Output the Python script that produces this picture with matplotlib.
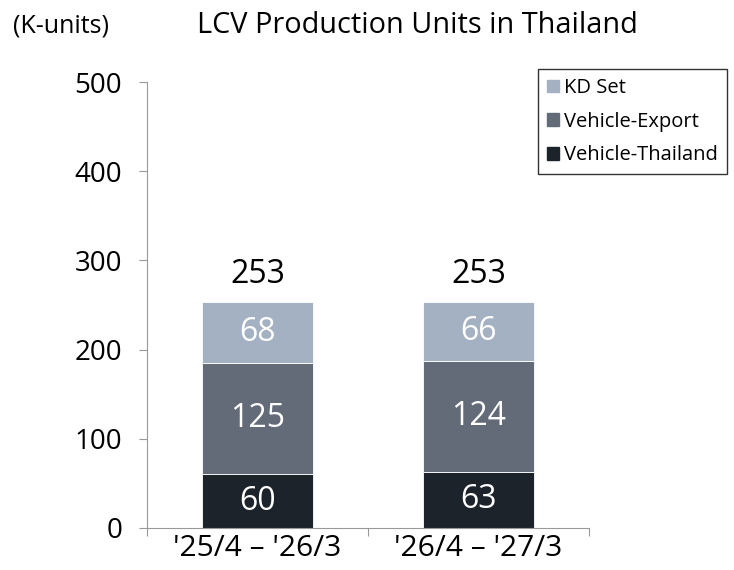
import numpy as np
import matplotlib.pyplot as plt
from matplotlib.patches import Patch

plt.rcParams['font.family'] = ['Open Sans', 'DejaVu Sans']

periods = ["'25/4 \u2013 '26/3", "'26/4 \u2013 '27/3"]
vehicle_thailand = [60, 63]
vehicle_export = [125, 124]
kd_set = [68, 66]
totals = [253, 253]

c_thai = '#1d232b'
c_exp = '#636a78'
c_kd = '#a3b1c2'

fig = plt.figure(figsize=(7.34, 5.7), dpi=100)
ax = fig.add_axes([0.2003, 0.0737, 0.602, 0.7823])

x = np.arange(len(periods))
w = 0.5
b1 = ax.bar(x, vehicle_thailand, w, color=c_thai, edgecolor='white', linewidth=0.6)
b2 = ax.bar(x, vehicle_export, w, bottom=vehicle_thailand, color=c_exp,
            edgecolor='white', linewidth=0.6)
bottom3 = np.array(vehicle_thailand) + np.array(vehicle_export)
b3 = ax.bar(x, kd_set, w, bottom=bottom3, color=c_kd, edgecolor='white', linewidth=0.6)

for bars, vals, bots in [(b1, vehicle_thailand, [0, 0]),
                         (b2, vehicle_export, vehicle_thailand),
                         (b3, kd_set, bottom3)]:
    for i, v in enumerate(vals):
        ax.text(x[i], bots[i] + v / 2, str(v), ha='center', va='center',
                color='white', fontsize=23)

for i, t in enumerate(totals):
    ax.text(x[i], t + 31, str(t), ha='center', va='center', fontsize=23)

ax.set_xlim(-0.5, 1.5)
ax.set_ylim(0, 500)
ax.set_yticks(range(0, 501, 100))
ax.set_xticks([-0.5, 0.5, 1.5])
ax.set_xticklabels(['', '', ''])
ax.set_xticks(x, minor=True)
ax.set_xticklabels(periods, minor=True)
ax.tick_params(axis='x', which='minor', length=0, pad=4, labelsize=21.5)
ax.tick_params(axis='x', which='major', length=6, color='#999999', direction='out')
ax.tick_params(axis='y', length=6, color='#999999', labelsize=20, pad=12)
for s in ['top', 'right']:
    ax.spines[s].set_visible(False)
for s in ['left', 'bottom']:
    ax.spines[s].set_color('#999999')

fig.text(0.018, 0.955, '(K-units)', fontsize=18, va='center')
fig.text(0.268, 0.955, 'LCV Production Units in Thailand', fontsize=20.8,
         va='center')

handles = [Patch(color=c_kd), Patch(color=c_exp), Patch(color=c_thai)]
leg = fig.legend(handles, ['KD Set', 'Vehicle-Export', 'Vehicle-Thailand'],
                 loc='upper left', bbox_to_anchor=(0.733, 0.879),
                 prop={'size': 14.5}, frameon=True,
                 fancybox=False, edgecolor='black',
                 handlelength=0.6, handleheight=0.6, handletextpad=0.25,
                 labelspacing=0.68, borderpad=0.45, borderaxespad=0)
leg.get_frame().set_linewidth(1.0)

fig.savefig('out.png', dpi=100)
